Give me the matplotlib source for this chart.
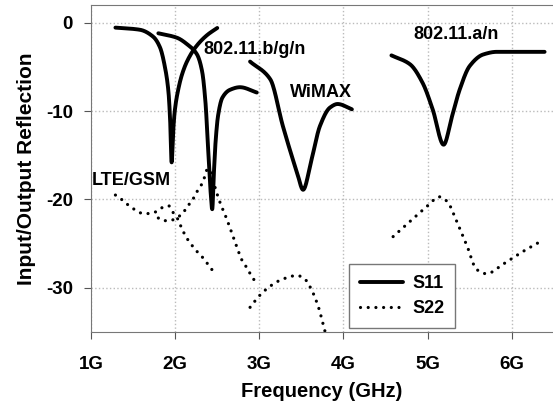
import numpy as np
import matplotlib.pyplot as plt

plt.rcParams['font.family'] = ['Liberation Sans', 'DejaVu Sans']
plt.rcParams['font.weight'] = 'bold'
plt.rcParams['axes.unicode_minus'] = False

# S11 curves (GHz, dB)
lte_s11_f = [1.29, 1.58, 1.74, 1.82, 1.88, 1.92, 1.94, 1.958, 1.975, 1.995, 2.04, 2.08, 2.14, 2.24, 2.38, 2.5]
lte_s11_db = [-0.56, -0.8, -1.6, -2.8, -5.1, -7.8, -11.0, -15.8, -12.5, -10.0, -7.4, -5.9, -4.4, -2.8, -1.4, -0.6]

wifi_s11_f = [1.8, 2.02, 2.15, 2.26, 2.32, 2.36, 2.39, 2.42, 2.44, 2.46, 2.48, 2.51, 2.56, 2.65, 2.77, 2.97]
wifi_s11_db = [-1.2, -1.7, -2.5, -3.6, -5.5, -9.0, -14.0, -19.0, -21.1, -17.0, -13.5, -10.5, -8.5, -7.6, -7.3, -7.9]

wimax_s11_f = [2.89, 3.13, 3.28, 3.45, 3.52, 3.62, 3.72, 3.84, 3.93, 4.1]
wimax_s11_db = [-4.4, -6.4, -11.7, -17.0, -18.9, -15.5, -11.7, -9.6, -9.2, -9.8]

wlan5_s11_f = [4.57, 4.79, 4.94, 5.06, 5.19, 5.29, 5.38, 5.5, 5.66, 5.82, 6.39]
wlan5_s11_db = [-3.7, -4.7, -6.8, -9.8, -13.8, -10.6, -7.6, -4.9, -3.6, -3.3, -3.3]

# S22 curves
lte_s22_f = [1.29, 1.38, 1.45, 1.53, 1.62, 1.69, 1.77, 1.85, 1.92, 1.97, 2.03, 2.06, 2.14, 2.2, 2.27, 2.34, 2.4, 2.46]
lte_s22_db = [-19.5, -20.1, -20.7, -21.2, -21.6, -21.6, -21.4, -20.9, -20.7, -21.4, -22.2, -22.9, -24.4, -25.2, -26.0, -26.7, -27.5, -28.2]

wifi_s22_f = [1.8, 1.86, 1.94, 2.01, 2.09, 2.14, 2.2, 2.24, 2.29, 2.33, 2.39, 2.44, 2.47, 2.52, 2.56, 2.6, 2.67, 2.73, 2.79, 2.85, 2.91, 2.96]
wifi_s22_db = [-22.1, -22.4, -22.4, -22.1, -21.6, -20.8, -20.2, -19.4, -18.7, -18.0, -16.5, -17.4, -18.5, -20.0, -21.0, -21.9, -23.7, -25.3, -26.8, -27.7, -28.7, -29.4]

wimax_s22_f = [2.89, 3.0, 3.13, 3.28, 3.45, 3.54, 3.62, 3.7, 3.78]
wimax_s22_db = [-32.2, -30.9, -29.8, -29.0, -28.6, -29.0, -30.2, -32.1, -34.9]

wlan5_s22_f = [4.59, 4.79, 4.99, 5.14, 5.23, 5.35, 5.47, 5.58, 5.7, 5.9, 6.13, 6.37]
wlan5_s22_db = [-24.2, -22.5, -20.8, -19.7, -20.2, -22.6, -25.3, -27.9, -28.4, -27.3, -25.9, -24.6]


def smooth(f, v):
    # monotone cubic (Fritsch-Carlson) through the read points
    f = np.asarray(f, float)
    v = np.asarray(v, float)
    h = np.diff(f)
    d = np.diff(v) / h
    m = np.zeros_like(v)
    m[0], m[-1] = d[0], d[-1]
    for i in range(1, len(v) - 1):
        if d[i - 1] * d[i] > 0:
            w1 = 2 * h[i] + h[i - 1]
            w2 = h[i] + 2 * h[i - 1]
            m[i] = (w1 + w2) / (w1 / d[i - 1] + w2 / d[i])
    xs, ys = [], []
    t = np.linspace(0, 1, 25, endpoint=False)
    h00 = 2 * t**3 - 3 * t**2 + 1
    h10 = t**3 - 2 * t**2 + t
    h01 = -2 * t**3 + 3 * t**2
    h11 = t**3 - t**2
    for i in range(len(f) - 1):
        xs.append(f[i] + t * h[i])
        ys.append(h00 * v[i] + h10 * h[i] * m[i] + h01 * v[i + 1] + h11 * h[i] * m[i + 1])
    xs.append([f[-1]])
    ys.append([v[-1]])
    return np.concatenate(xs), np.concatenate(ys)


fig = plt.figure(figsize=(5.53, 4.03), dpi=100)
ax = fig.add_axes([0.1646, 0.176, 0.8354, 0.8116])

s11 = dict(color='black', lw=2.8, solid_capstyle='round')
s22 = dict(color='black', lw=2.3, linestyle=(0, (0.01, 2.4)), dash_capstyle='round')

for f, v in [(lte_s11_f, lte_s11_db), (wifi_s11_f, wifi_s11_db),
             (wimax_s11_f, wimax_s11_db), (wlan5_s11_f, wlan5_s11_db)]:
    ax.plot(*smooth(f, v), **s11)
for f, v in [(lte_s22_f, lte_s22_db), (wifi_s22_f, wifi_s22_db),
             (wimax_s22_f, wimax_s22_db), (wlan5_s22_f, wlan5_s22_db)]:
    ax.plot(*smooth(f, v), **s22)

ax.plot([], [], label='S11', **s11)
ax.plot([], [], label='S22', **s22)

ax.set_xlim(1, 6.49)
ax.set_ylim(-35, 2)
ax.set_xticks([1, 2, 3, 4, 5, 6])
ax.set_xticklabels(['1G', '2G', '3G', '4G', '5G', '6G'])
ax.set_yticks([0, -10, -20, -30])
ax.tick_params(labelsize=13.5, colors='#555555', labelcolor='black', length=5)
ax.tick_params(axis='x', pad=12)
ax.tick_params(axis='y', pad=8)
ax.grid(True, color='#bbbbbb', linestyle=':', lw=1)

for s in ax.spines.values():
    s.set_color('#777777')
ax.spines['right'].set_visible(False)

ax.set_xlabel('Frequency (GHz)', fontsize=14.5, fontweight='bold', labelpad=7)
ax.set_ylabel('Input/Output Reflection', fontsize=15, fontweight='bold', labelpad=7)

ax.text(2.34, -3.5, '802.11.b/g/n', fontsize=13, fontweight='bold')
ax.text(3.37, -8.4, 'WiMAX', fontsize=13, fontweight='bold')
ax.text(4.83, -1.8, '802.11.a/n', fontsize=13, fontweight='bold')
ax.text(1.01, -18.4, 'LTE/GSM', fontsize=13, fontweight='bold')

leg = ax.legend(loc='lower left', bbox_to_anchor=(0.558, 0.012), borderaxespad=0,
                fontsize=13, fancybox=False, framealpha=1, edgecolor='#777777',
                handlelength=2.4, handletextpad=0.5, borderpad=0.6,
                labelspacing=0.45)

fig.savefig('out.png', dpi=100)
